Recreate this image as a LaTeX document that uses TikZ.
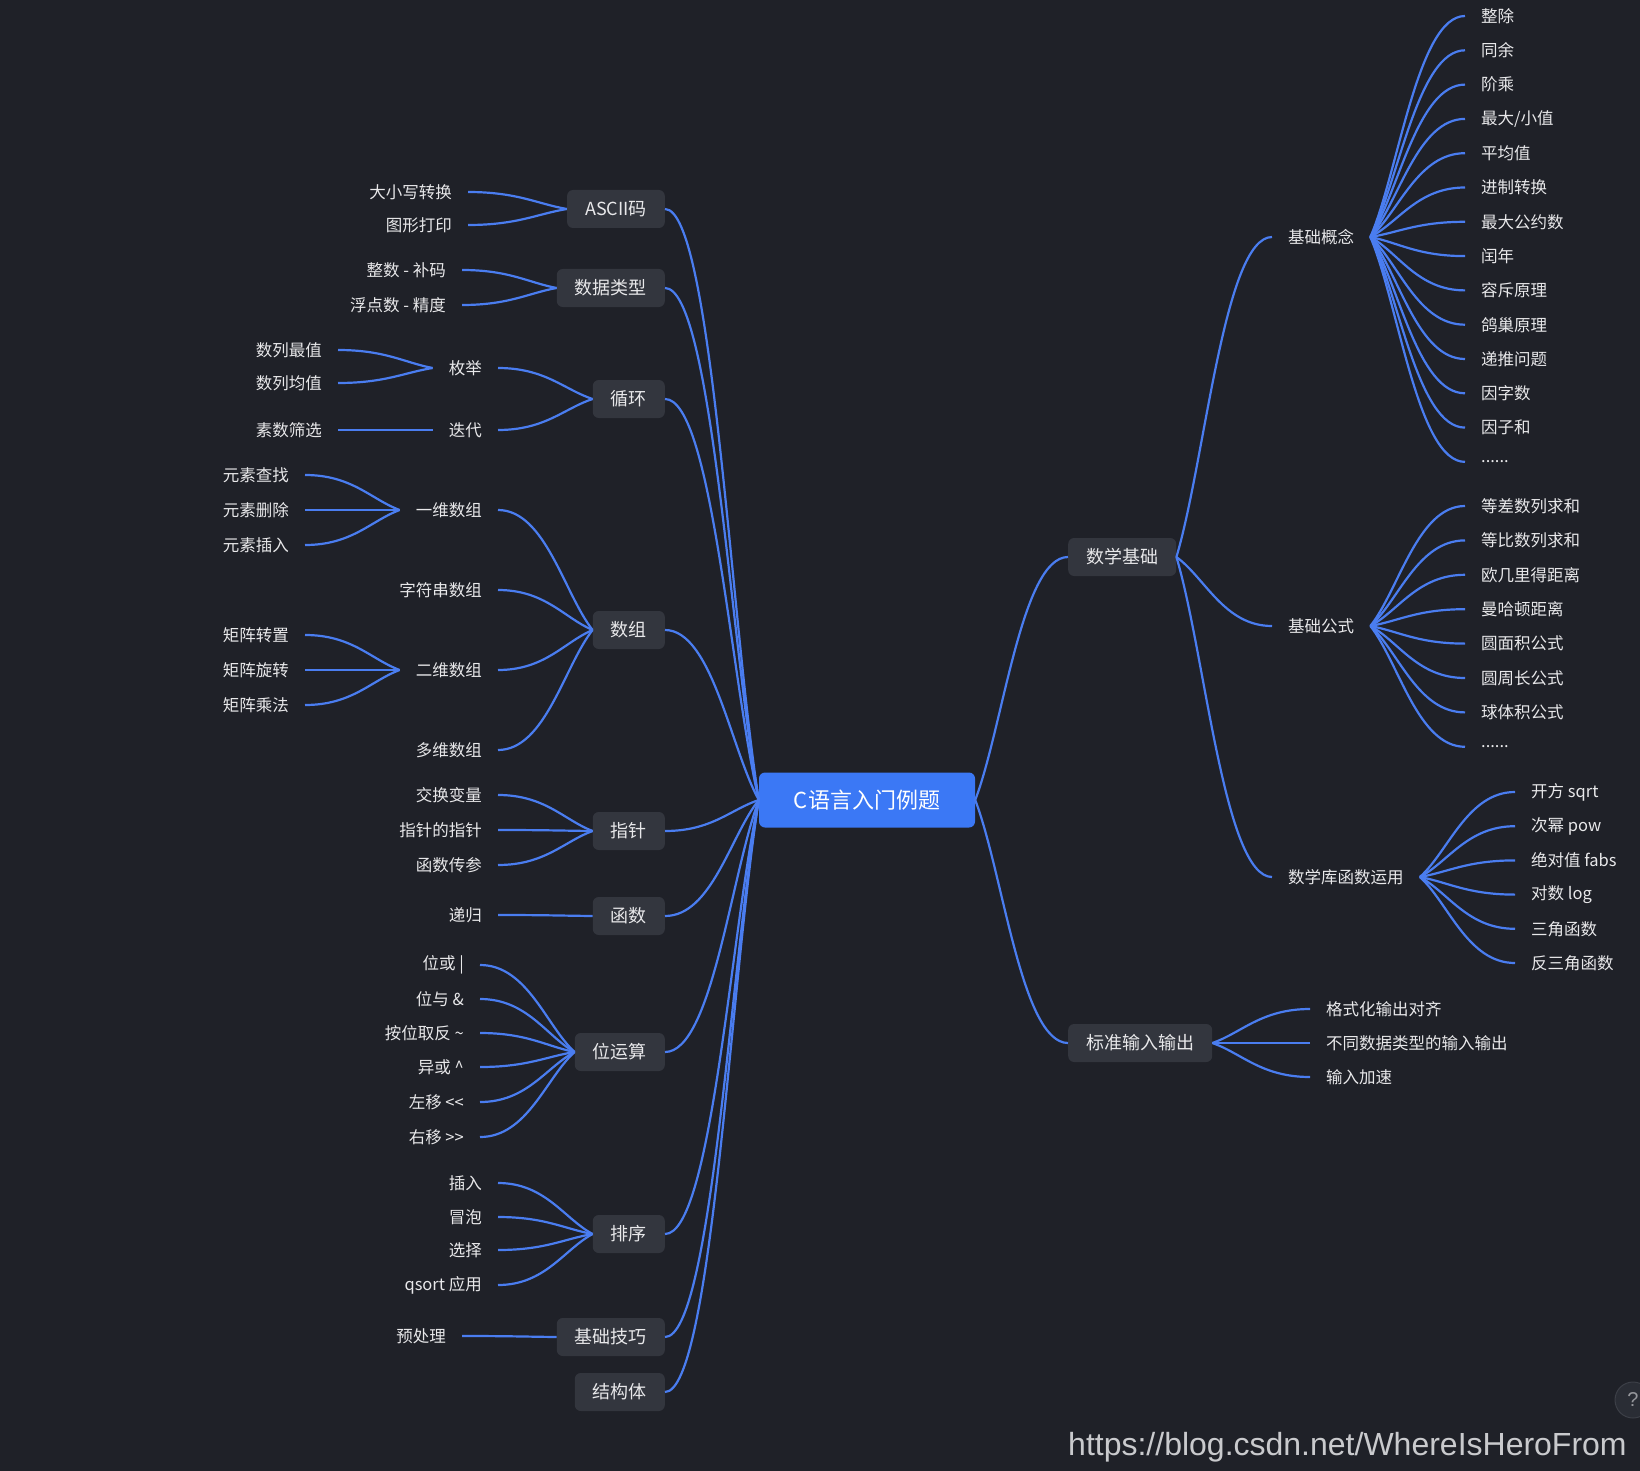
\documentclass[tikz,border=0pt]{standalone}
\usepackage{fontspec}
\usetikzlibrary{calc}
\newfontfamily\cjk{Noto Sans CJK SC}
\newfontfamily\wmfont{Liberation Sans}
\definecolor{bg}{HTML}{1F2128}
\definecolor{boxfill}{HTML}{33363E}
\definecolor{rootfill}{HTML}{3B78F5}
\definecolor{edgeblue}{HTML}{4A7DF0}
\definecolor{txt}{HTML}{E8E8EA}
\definecolor{wm}{HTML}{C9CACD}
\definecolor{helpfill}{HTML}{2A2D35}
\definecolor{helpline}{HTML}{3C3F47}
\newcommand\moredots{......}

\tikzset{
  edge/.style={draw=edgeblue, line width=2.2pt},
  topic/.style={rectangle, rounded corners=6pt, fill=boxfill, text=txt,
    font=\cjk\fontsize{18}{20}\selectfont, inner xsep=18pt, inner ysep=0pt,
    minimum height=38pt},
  leaf/.style={rectangle, text=txt, font=\cjk\fontsize{16.5}{18}\selectfont,
    inner xsep=16pt, inner ysep=0pt, minimum height=20pt},
  root/.style={rectangle, rounded corners=6pt, fill=rootfill, text=white,
    font=\cjk\fontsize{22}{24}\selectfont, inner sep=0pt,
    minimum width=216pt, minimum height=55pt},
}
% curved connector: leaves the parent along the chord, meets the child horizontally
\newcommand\lnk[2]{\draw[edge] (#1) .. controls ($(#1)!0.3!(#2)$) and ($(#2)!0.5!(#2 -| #1)$) .. (#2);}

\begin{document}
\begin{tikzpicture}[x=1pt,y=-1pt]
\fill[bg] (0,0) rectangle (1640,1471);
\useasboundingbox (0,0) rectangle (1640,1471);

% root
\node[root] (root) at (867,800) {C语言入门例题};

% left topics
\node[topic, anchor=east] (asc) at (665,209) {ASCII码};
\node[topic, anchor=east] (dty) at (665,288) {数据类型};
\node[topic, anchor=east] (lop) at (665,399) {循环};
\node[topic, anchor=east] (arr) at (665,630) {数组};
\node[topic, anchor=east] (ptr) at (665,831) {指针};
\node[topic, anchor=east] (fun) at (665,916) {函数};
\node[topic, anchor=east] (bit) at (665,1052) {位运算};
\node[topic, anchor=east] (srt) at (665,1234) {排序};
\node[topic, anchor=east] (tec) at (665,1337) {基础技巧};
\node[topic, anchor=east] (stc) at (665,1392) {结构体};

\foreach \n in {asc,dty,lop,arr,ptr,fun,bit,srt,tec,stc} {\lnk{root.west}{\n.east}}

% ASCII码
\node[leaf, anchor=east] (a1) at (468,192) {大小写转换};
\node[leaf, anchor=east] (a2) at (468,225) {图形打印};
\lnk{asc.west}{a1.east} \lnk{asc.west}{a2.east}

% 数据类型
\node[leaf, anchor=east] (d1) at (462,270) {整数 - 补码};
\node[leaf, anchor=east] (d2) at (462,305) {浮点数 - 精度};
\lnk{dty.west}{d1.east} \lnk{dty.west}{d2.east}

% 循环
\node[leaf, anchor=east] (enm) at (498,368) {枚举};
\node[leaf, anchor=east] (itr) at (498,430) {迭代};
\lnk{lop.west}{enm.east} \lnk{lop.west}{itr.east}
\node[leaf, anchor=east] (e1) at (338,350) {数列最值};
\node[leaf, anchor=east] (e2) at (338,383) {数列均值};
\node[leaf, anchor=east] (i1) at (338,430) {素数筛选};
\lnk{enm.west}{e1.east} \lnk{enm.west}{e2.east} \lnk{itr.west}{i1.east}

% 数组
\node[leaf, anchor=east] (r1) at (498,510) {一维数组};
\node[leaf, anchor=east] (r2) at (498,590) {字符串数组};
\node[leaf, anchor=east] (r3) at (498,670) {二维数组};
\node[leaf, anchor=east] (r4) at (498,750) {多维数组};
\foreach \n in {r1,r2,r3,r4} {\lnk{arr.west}{\n.east}}
\node[leaf, anchor=east] (o1) at (305,475) {元素查找};
\node[leaf, anchor=east] (o2) at (305,510) {元素删除};
\node[leaf, anchor=east] (o3) at (305,545) {元素插入};
\foreach \n in {o1,o2,o3} {\lnk{r1.west}{\n.east}}
\node[leaf, anchor=east] (t1) at (305,635) {矩阵转置};
\node[leaf, anchor=east] (t2) at (305,670) {矩阵旋转};
\node[leaf, anchor=east] (t3) at (305,705) {矩阵乘法};
\foreach \n in {t1,t2,t3} {\lnk{r3.west}{\n.east}}

% 指针
\node[leaf, anchor=east] (p1) at (498,795) {交换变量};
\node[leaf, anchor=east] (p2) at (498,830) {指针的指针};
\node[leaf, anchor=east] (p3) at (498,865) {函数传参};
\foreach \n in {p1,p2,p3} {\lnk{ptr.west}{\n.east}}

% 函数
\node[leaf, anchor=east] (f1) at (498,915) {递归};
\lnk{fun.west}{f1.east}

% 位运算
\node[leaf, anchor=east] (b1) at (480,965) {位或 |};
\node[leaf, anchor=east] (b2) at (480,999) {位与 \&};
\node[leaf, anchor=east] (b3) at (480,1033) {按位取反 \textasciitilde};
\node[leaf, anchor=east] (b4) at (480,1067) {异或 \textasciicircum};
\node[leaf, anchor=east] (b5) at (480,1102) {左移 <\kern0pt<};
\node[leaf, anchor=east] (b6) at (480,1137) {右移 >\kern0pt>};
\foreach \n in {b1,b2,b3,b4,b5,b6} {\lnk{bit.west}{\n.east}}

% 排序
\node[leaf, anchor=east] (s1) at (498,1183) {插入};
\node[leaf, anchor=east] (s2) at (498,1217) {冒泡};
\node[leaf, anchor=east] (s3) at (498,1250) {选择};
\node[leaf, anchor=east] (s4) at (498,1285) {qsort 应用};
\foreach \n in {s1,s2,s3,s4} {\lnk{srt.west}{\n.east}}

% 基础技巧
\node[leaf, anchor=east] (k1) at (462,1336) {预处理};
\lnk{tec.west}{k1.east}

% right topics
\node[topic, anchor=west] (mth) at (1068,557) {数学基础};
\node[topic, anchor=west] (sio) at (1068,1043) {标准输入输出};
\lnk{root.east}{mth.west} \lnk{root.east}{sio.west}

\node[leaf, anchor=west] (gn) at (1272,237) {基础概念};
\node[leaf, anchor=west] (gs) at (1272,626) {基础公式};
\node[leaf, anchor=west] (ml) at (1272,877) {数学库函数运用};
\foreach \n in {gn,gs,ml} {\lnk{mth.east}{\n.west}}

\foreach \t [count=\i from 0] in {整除,同余,阶乘,最大/小值,平均值,进制转换,最大公约数,闰年,容斥原理,鸽巢原理,递推问题,因字数,因子和,\moredots} {
  \node[leaf, anchor=west] (gn\i) at (1465,{16+34.3*\i}) {\t};
  \lnk{gn.east}{gn\i.west}
}

\foreach \t [count=\i from 0] in {等差数列求和,等比数列求和,欧几里得距离,曼哈顿距离,圆面积公式,圆周长公式,球体积公式,\moredots} {
  \node[leaf, anchor=west] (gs\i) at (1465,{506+34.4*\i}) {\t};
  \lnk{gs.east}{gs\i.west}
}

\foreach \t [count=\i from 0] in {开方 sqrt,次幂 pow,绝对值 fabs,对数 log,三角函数,反三角函数} {
  \node[leaf, anchor=west] (ml\i) at (1515,{792+34.2*\i}) {\t};
  \lnk{ml.east}{ml\i.west}
}

\foreach \t [count=\i from 0] in {格式化输出对齐,不同数据类型的输入输出,输入加速} {
  \node[leaf, anchor=west] (io\i) at (1310,{1009+34*\i}) {\t};
  \lnk{sio.east}{io\i.west}
}

% help button and address line
\node[circle, minimum size=36pt, inner sep=0pt, fill=helpfill, draw=helpline, line width=1pt,
  text=wm!70!bg, font=\wmfont\fontsize{20}{22}\selectfont] (help) at (1633,1400) {?};
\node[anchor=base west, inner sep=0pt, text=wm, font=\wmfont\fontsize{32}{35}\selectfont]
  (url) at (1068,1455) {https://blog.csdn.net/WhereIsHeroFrom};
\end{tikzpicture}
\end{document}
